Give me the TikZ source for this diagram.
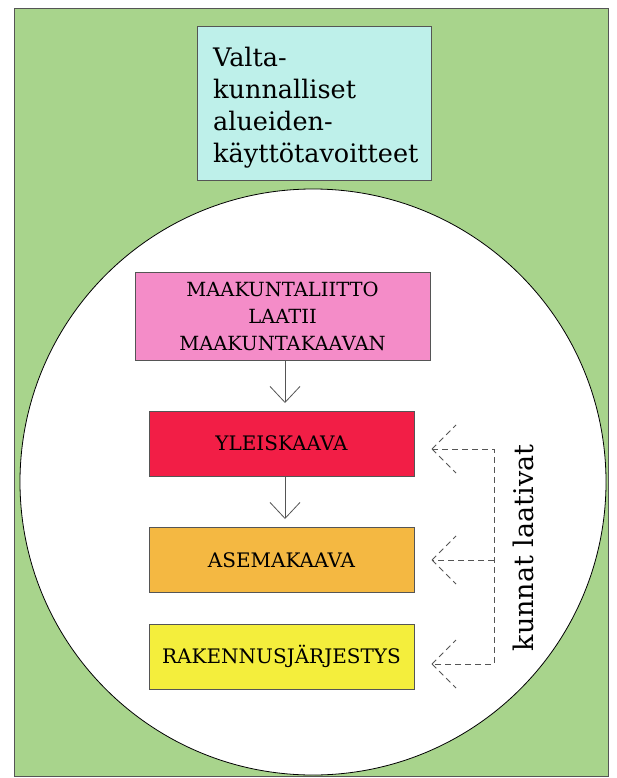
\documentclass[tikz,border=0pt]{standalone}
\usepackage{fontspec}
\setmainfont{DejaVu Serif}
\usetikzlibrary{arrows.meta}
\definecolor{bggreen}{HTML}{A8D48C}
\definecolor{cyanbox}{HTML}{BEF0EA}
\definecolor{pinkbox}{HTML}{F48CC8}
\definecolor{redbox}{HTML}{F21E46}
\definecolor{orangebox}{HTML}{F4B842}
\definecolor{yellowbox}{HTML}{F4EE3C}
\definecolor{edge}{HTML}{555555}
\tikzset{
  x=1pt, y=-1pt,
  plan/.style={draw=edge, line width=0.8pt, minimum width=265pt, minimum height=65pt, inner sep=0pt, font=\fontsize{20}{24}\selectfont, text=black},
  flow/.style={draw=edge, line width=0.8pt, -{Straight Barb[length=16pt,width=30pt,line width=0.8pt]}},
  dashln/.style={draw=edge, line width=0.8pt, dash pattern=on 6pt off 4pt}
}
\begin{document}
\begin{tikzpicture}
\useasboundingbox (0,0) rectangle (616,778);
\fill[white] (0,0) rectangle (616,778);
\draw[fill=bggreen, draw=edge, line width=0.8pt] (14,8) rectangle (608,776);
\draw[fill=white, draw=black, line width=0.8pt] (313,482) circle[radius=293];
\node[draw=edge, line width=0.8pt, fill=cyanbox, minimum width=234pt, minimum height=154pt, inner sep=0pt] (vat) at (314,103) {};
\node[anchor=base west, align=left, inner sep=0pt, font=\fontsize{25.5}{32}\selectfont] (vattext) at (213,163) {Valta-\\kunnalliset\\alueiden-\\käyttötavoitteet};
\node[plan, fill=pinkbox, minimum width=295pt, minimum height=88pt, align=center, font=\fontsize{19.5}{27}\selectfont] (maak) at (282.5,316) {MAAKUNTALIITTO\\LAATII\\MAAKUNTAKAAVAN};
\node[plan, fill=redbox] (yk) at (281.5,443.5) {YLEISKAAVA};
\node[plan, fill=orangebox] (ak) at (281.5,560) {ASEMAKAAVA};
\node[plan, fill=yellowbox] (rj) at (281.5,656.5) {RAKENNUSJÄRJESTYS};
\draw[flow] (285,360) -- (285,403);
\draw[flow] (285,476) -- (285,519);
% dashed connector
\coordinate (v1) at (494,449);
\coordinate (v2) at (494,560);
\coordinate (v3) at (494,664);
\coordinate (t1) at (432,449);
\coordinate (t2) at (432,560);
\coordinate (t3) at (432,664);
\draw[dashln] (t1) -- (v1) -- (v3) -- (t3);
\draw[dashln] (v2) -- (t2);
\foreach \t in {t1,t2,t3}{
  \draw[dashln] (\t) -- ++(24,-24);
  \draw[dashln] (\t) -- ++(24,24);
}
\node[rotate=90, font=\fontsize{27}{30}\selectfont, inner sep=0pt] (kl) at (523,548) {kunnat laativat};
\end{tikzpicture}
\end{document}
